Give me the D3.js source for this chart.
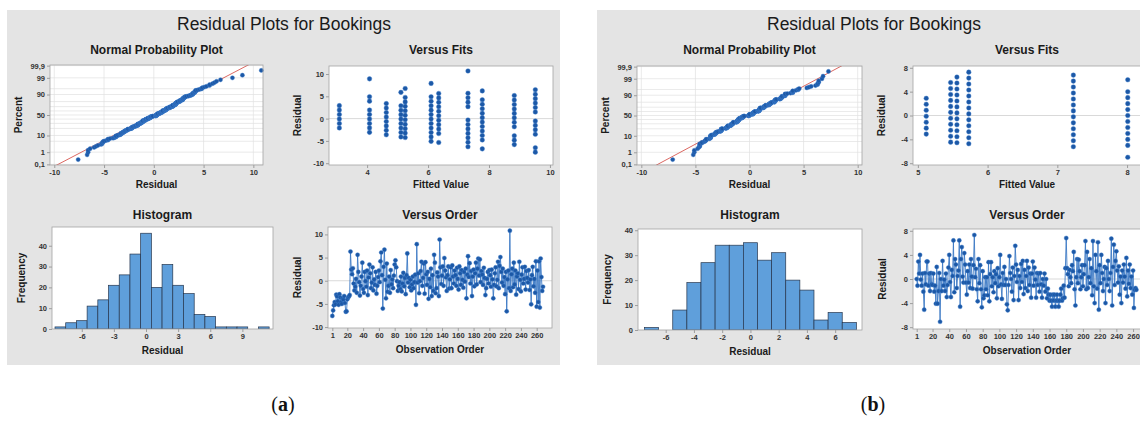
<!DOCTYPE html>
<html>
<head>
<meta charset="utf-8">
<script src="https://cdn.jsdelivr.net/npm/d3@7"></script>
<style>
  html, body { margin: 0; padding: 0; background: #ffffff; }
  svg { display: block; font-family: "Liberation Sans", Arial, Helvetica, sans-serif; }
</style>
</head>
<body>
<script>
// ---------------------------------------------------------------
// Residual plots for Bookings: two four-panel diagnostic figures
// ---------------------------------------------------------------

// ---- Figure (a) ----
// residuals in observation order
const residualsA = [
  -7.6, -6.4, -5.3, -4.6, -5.1, -3.0, -3.4, -4.4, -5.2, -2.9, -3.6, -4.6, -5.0, -3.8, -4.1, -3.3, -4.8, -6.7, -6.6, -4.0,
  -3.6, -3.4, -3.1, 6.3, 2.4, 1.4, 2.7, -0.6, -2.1, -1.3, 0.4, -2.6, 5.6, 1.9, -0.3, -3.2, -1.1, 0.9, 3.9, -1.8,
  -2.6, 1.9, -0.1, -1.3, 2.2, -3.1, 0.7, 3.5, 1.6, -1.6, -0.4, 2.9, -2.1, 0.3, -0.9, 1.9, -2.8, -1.1, 0.8, 2.2,
  -0.3, 4.2, 6.1, 1.2, -6.0, 3.0, 6.7, 0.2, -3.8, 3.7, -2.4, -1.1, 0.9, -2.6, 2.3, -0.8, 0.3, -1.6, 1.1, 3.5,
  4.4, 2.9, -0.1, -2.2, -1.1, -0.3, -1.8, 0.9, -2.3, -0.6, 1.7, -1.2, 0.6, -2.9, 1.2, 5.9, -0.4, 0.6, -1.4, 0.2,
  -2.1, -0.8, 0.9, -1.6, -0.3, 1.3, -5.2, 7.9, -0.4, 1.6, -2.7, -0.1, 2.1, 4.1, -1.1, 0.6, 3.7, -2.8, 4.0, 1.4,
  -0.9, 1.9, -3.9, 0.4, -1.4, 2.6, -3.3, 1.2, -2.2, 5.6, 3.9, -2.7, -1.6, 1.8, 0.9, -3.3, 8.9, 2.9, -0.7, 1.1,
  3.1, -1.1, 4.9, 2.2, 0.7, -2.2, 1.2, 3.1, -1.7, 0.3, 2.9, -1.6, 3.3, 0.9, -0.6, 2.2, 1.2, -1.1, 2.8, 0.4,
  -1.9, 3.1, 1.6, -0.9, 2.3, 0.2, -1.5, 1.9, -0.2, 2.6, -3.8, 1.3, 5.3, 0.8, 3.8, -0.6, 2.1, -3.3, 0.9, 2.4,
  -1.2, 1.6, 3.9, -0.8, 2.6, 4.8, 1.1, 4.6, -0.3, 2.1, 1.3, -0.9, 2.8, 0.6, -3.1, -1.6, 0.4, 1.9, -0.6, 2.3,
  1.2, -1.3, 2.4, 0.3, -3.8, -0.9, 1.6, 2.9, -1.2, 0.2, 4.1, -1.6, 3.2, 5.1, 1.9, -0.4, 2.6, -1.1, 0.8, -2.9,
  1.9, -6.6, 0.3, 2.2, -1.6, 10.8, -2.2, 1.4, 2.6, -1.4, 3.9, -0.8, 2.2, -3.0, 0.9, 1.6, -1.8, 4.1, 0.2, -2.3,
  1.3, 2.9, -0.6, 0.4, 3.0, -1.9, 2.1, 0.6, -0.4, 2.3, -2.0, 0.3, -5.1, 1.2, 3.0, -1.2, 0.4, -2.6, 4.2, -5.6,
  2.2, -4.6, 4.2, -5.8, 4.8, 0.8, -2.2, -1.3
];
// fitted-value levels and the residuals observed at each level
const fitLevelsA = [3.09, 4.08, 4.63, 5.11, 5.25, 6.10, 6.35, 7.31, 7.78, 8.83, 9.52];
const fitResidualsA = [
  [2.91, 1.91, 0.91, -0.09, -1.09, -2.09],
  [8.92, 4.92, 3.92, 1.92, 0.92, -0.08, -1.08, -2.08, -3.08],
  [3.37, 2.37, 1.37, 0.37, -0.63, -1.63, -2.63, -3.63],
  [5.89, 2.89, 1.89, 0.89, -0.11, -1.11, -2.11, -3.11, -4.11],
  [6.75, 4.75, 3.75, 2.75, 1.75, 0.75, -0.25, -1.25, -2.25, -3.25, -4.25],
  [7.90, 4.90, 3.90, 2.90, 1.90, 0.90, -0.10, -1.10, -2.10, -3.10, -4.10, -5.10],
  [5.65, 4.65, 3.65, 2.65, 1.65, 0.65, -0.35, -1.35, -2.35, -3.35, -5.35],
  [10.69, 5.69, 4.69, 3.69, 2.69, -0.31, -1.31, -2.31, -3.31, -4.31, -5.31, -6.31],
  [6.22, 4.22, 3.22, 2.22, 1.22, 0.22, -0.78, -1.78, -2.78, -3.78, -4.78, -6.78],
  [5.17, 4.17, 3.17, 2.17, 1.17, 0.17, -0.83, -1.83, -3.83, -4.83, -5.83],
  [6.48, 5.48, 4.48, 3.48, 2.48, 1.48, -0.52, -1.52, -2.52, -3.52, -6.52, -7.52]
];
// histogram: bin centres (width 1) and frequencies
const histBinsA   = [-8, -7, -6, -5, -4, -3, -2, -1, 0, 1, 2, 3, 4, 5, 6, 7, 8, 9, 10, 11];
const histCountsA = [ 1,  3,  4, 11, 14, 21, 26, 36, 46, 20, 31, 21, 17, 7, 6, 1, 1, 1, 0, 1];
// normal reference line (mean, standard deviation)
const refMeanA = -0.13;
const refSdA = 3.07;

// ---- Figure (b) ----
const residualsB = [
  0.0, -1.1, 2.9, 0.9, 4.0, -0.1, -1.1, 0.9, -2.1, -5.1, 1.0, -0.9, 2.9, 2.9, -1.1, 0.9, -2.0, 1.0, -0.9, -1.0,
  0.9, -2.1, -1.1, -4.1, 2.0, -4.1, -2.0, 1.0, -7.1, 0.0, -2.0, 3.0, -1.1, -0.1, -2.0, 0.9, -3.0, -1.0, 1.9, 4.0,
  -0.5, -3.0, 1.5, 0.5, 6.4, -2.2, 3.3, 2.4, -1.5, 0.5, 1.4, 6.4, -4.6, 3.3, 5.3, 0.4, -0.6, 4.3, 2.4, -0.6,
  -2.6, 1.3, -0.6, 2.4, -1.5, 3.3, 0.4, -1.6, 2.3, 7.3, 0.3, 1.7, -1.7, -3.7, 3.3, -0.7, 2.3, -1.7, -4.7, 1.3,
  -3.2, -2.7, 0.3, -1.7, 0.3, -2.7, 2.8, -3.7, 0.8, 2.8, -1.2, 0.3, -2.2, 1.3, -0.7, 0.8, -3.2, 1.8, -1.2, 0.3,
  4.0, -0.9, -3.3, 1.0, -1.0, 2.0, -1.0, 0.0, -4.2, -5.2, -1.0, 3.8, 1.0, 0.0, -2.1, 1.9, -3.5, 0.5, 5.5, 2.4,
  -0.5, 1.5, -3.5, 0.5, -1.5, 2.5, -0.5, 3.0, -2.5, 1.5, -1.5, 0.5, 3.0, -2.0, 1.9, -1.0, 0.9, -3.1, 0.9, 2.9,
  -1.1, 1.9, -0.1, -3.1, 1.0, -1.0, 0.9, -2.1, 1.0, -0.9, -3.1, 0.0, -1.1, 0.9, -2.1, 0.0, -3.2, -1.6, -2.6, -3.6,
  -2.6, -3.6, -4.6, -2.6, -3.6, -2.6, -4.6, -3.6, -2.6, -3.6, -4.6, -3.6, -2.6, -1.6, -3.6, -3.2, -1.1, -3.1, 1.8, 6.8,
  1.8, 0.8, -1.2, 1.5, 0.3, -0.7, 2.3, 1.3, 4.5, -1.7, -4.4, 0.3, 3.3, -0.7, 3.2, 1.3, -1.7, 0.3, 2.3, -1.2,
  0.8, 2.3, 6.3, -1.7, 4.5, -1.5, 0.3, 3.3, -0.7, 1.8, -2.7, 6.3, -1.2, -4.0, 4.0, 1.3, -1.6, 6.1, -5.1, 2.3,
  -0.7, 4.0, 1.0, -2.0, 0.0, 2.0, -4.0, 1.8, -1.0, 3.0, 0.0, -2.0, 1.0, 6.7, -4.4, 2.0, 5.7, -1.0, 3.0, 4.6,
  1.4, -0.6, 2.1, -2.6, 0.4, -4.0, 1.4, -0.6, 2.4, 0.4, -1.6, 3.5, -2.9, 1.4, -0.8, 2.4, -1.5, 0.4, -2.6, 1.4,
  -4.8, -1.8, -1.5, -1.8
];
const fitLevelsB = [5.12, 5.47, 5.56, 5.73, 7.23, 8.01];
const fitResidualsB = [
  [2.88, 1.88, 0.88, -0.12, -1.12, -2.12, -3.12],
  [5.53, 4.53, 3.53, 2.53, 1.53, 0.53, -0.47, -1.47, -2.47, -3.47, -4.47],
  [6.44, 5.44, 4.44, 3.44, 2.44, 1.44, 0.44, -0.56, -1.56, -2.56, -3.56, -4.56],
  [7.27, 6.27, 5.27, 4.27, 3.27, 2.27, 1.27, 0.27, -0.73, -1.73, -2.73, -3.73, -4.73],
  [6.77, 5.77, 4.77, 3.77, 2.77, 1.77, 0.77, -0.23, -1.23, -2.23, -3.23, -4.23, -5.23],
  [5.99, 3.99, 2.99, 1.99, 0.99, -0.01, -1.01, -2.01, -3.01, -4.01, -5.01, -7.01]
];
const histBinsB   = [-7, -6, -5, -4, -3, -2, -1, 0, 1, 2, 3, 4, 5, 6, 7];
const histCountsB = [ 1,  0,  8, 19, 27, 34, 34, 35, 28, 31, 20, 16, 4, 7, 3];
const refMeanB = -0.05;
const refSdB = 2.73;

// ---- shared text and tick labels ----
const mainTitle = "Residual Plots for Bookings";
const panelTitles = ["Normal Probability Plot", "Versus Fits", "Histogram", "Versus Order"];
const percentTicks = [0.1, 1, 10, 50, 90, 99, 99.9];
const percentTickLabels = ["0,1", "1", "10", "50", "90", "99", "99,9"];
const percentGrid = [0.1, 1, 5, 10, 20, 30, 40, 50, 60, 70, 80, 90, 95, 99, 99.9];
const orderTicks = [1, 20, 40, 60, 80, 100, 120, 140, 160, 180, 200, 220, 240, 260];
const figureLabels = ["a", "b"];

// ---- styling ----
const C = {
  panel: "#e4e4e4",
  plotBg: "#ffffff",
  frame: "#a3a3a3",
  grid: "#e1e1e1",
  zero: "#cfcfcf",
  dot: "#1c58a6",
  dotEdge: "#3f7fcc",
  line: "#3b78c4",
  bar: "#5f9fdb",
  barEdge: "#26364d",
  ref: "#d2413a",
  text: "#1a1a1a",
  tick: "#333333"
};

// inverse of the standard normal CDF (Acklam's rational approximation)
function qnorm(p) {
  const a = [-3.969683028665376e+01, 2.209460984245205e+02, -2.759285104469687e+02, 1.383577518672690e+02, -3.066479806614716e+01, 2.506628277459239e+00];
  const b = [-5.447609879822406e+01, 1.615858368580409e+02, -1.556989798598866e+02, 6.680131188771972e+01, -1.328068155288572e+01];
  const c = [-7.784894002430293e-03, -3.223964580411365e-01, -2.400758277161838e+00, -2.549732539343734e+00, 4.374664141464968e+00, 2.938163982698783e+00];
  const d = [7.784695709041462e-03, 3.224671290700398e-01, 2.445134137142996e+00, 3.754408661907416e+00];
  const pl = 0.02425, ph = 1 - pl;
  let q, r;
  if (p < pl) {
    q = Math.sqrt(-2 * Math.log(p));
    return (((((c[0]*q+c[1])*q+c[2])*q+c[3])*q+c[4])*q+c[5]) / ((((d[0]*q+d[1])*q+d[2])*q+d[3])*q+1);
  }
  if (p <= ph) {
    q = p - 0.5; r = q * q;
    return (((((a[0]*r+a[1])*r+a[2])*r+a[3])*r+a[4])*r+a[5])*q / (((((b[0]*r+b[1])*r+b[2])*r+b[3])*r+b[4])*r+1);
  }
  q = Math.sqrt(-2 * Math.log(1 - p));
  return -(((((c[0]*q+c[1])*q+c[2])*q+c[3])*q+c[4])*q+c[5]) / ((((d[0]*q+d[1])*q+d[2])*q+d[3])*q+1);
}

const W = 1140, H = 430;
const svg = d3.select("body").append("svg")
  .attr("width", W).attr("height", H)
  .attr("viewBox", `0 0 ${W} ${H}`);

const defs = svg.append("defs");
let clipCount = 0;

const fmt = v => String(v);

// frame + axes for one sub-plot; returns the inner group clipped to the plot box
function subplot(g, box, xScale, yScale, opts) {
  const id = "clip" + (clipCount++);
  defs.append("clipPath").attr("id", id)
    .append("rect").attr("x", box.x).attr("y", box.y).attr("width", box.w).attr("height", box.h);

  g.append("rect").attr("x", box.x).attr("y", box.y).attr("width", box.w).attr("height", box.h)
    .attr("fill", C.plotBg);

  // x axis
  const xAxis = d3.axisBottom(xScale).tickValues(opts.xTicks).tickSize(3).tickPadding(2)
    .tickFormat(opts.xFormat || fmt);
  const xa = g.append("g").attr("transform", `translate(0,${box.y + box.h})`).call(xAxis);
  // y axis
  const yAxis = d3.axisLeft(yScale).tickValues(opts.yTicks).tickSize(3).tickPadding(2)
    .tickFormat(opts.yFormat || fmt);
  const ya = g.append("g").attr("transform", `translate(${box.x},0)`).call(yAxis);
  [xa, ya].forEach(a => {
    a.select(".domain").remove();
    a.selectAll(".tick line").attr("stroke", "#8a8a8a").attr("stroke-width", 0.8);
    a.selectAll(".tick text").attr("fill", C.tick).style("font-size", "7.5px").style("font-weight", "bold")
      .style("font-family", '"Liberation Sans", Arial, sans-serif');
  });

  const inner = g.append("g").attr("clip-path", `url(#${id})`);

  // titles
  g.append("text").attr("x", box.x + box.w / 2).attr("y", opts.titleY)
    .attr("text-anchor", "middle").attr("fill", C.text)
    .style("font-size", "12px").style("font-weight", "bold").text(opts.title);
  g.append("text").attr("x", box.x + box.w / 2).attr("y", box.y + box.h + opts.xTitleGap)
    .attr("text-anchor", "middle").attr("fill", C.text)
    .style("font-size", "10px").style("font-weight", "bold").text(opts.xTitle);
  g.append("text")
    .attr("transform", `translate(${box.x - opts.yTitleGap},${box.y + box.h / 2}) rotate(-90)`)
    .attr("text-anchor", "middle").attr("fill", C.text)
    .style("font-size", "10px").style("font-weight", "bold").text(opts.yTitle);

  return {
    inner,
    finish() {
      g.append("rect").attr("x", box.x).attr("y", box.y).attr("width", box.w).attr("height", box.h)
        .attr("fill", "none").attr("stroke", C.frame).attr("stroke-width", 0.8);
    }
  };
}

function drawFigure(cfg) {
  const g = svg.append("g");
  g.append("rect").attr("x", cfg.bg.x).attr("y", cfg.bg.y).attr("width", cfg.bg.w).attr("height", cfg.bg.h)
    .attr("fill", C.panel);
  g.append("text").attr("x", cfg.titleX).attr("y", 30).attr("text-anchor", "middle")
    .attr("fill", C.text).style("font-size", "17.5px").text(mainTitle);

  // ---- Normal probability plot ----
  {
    const box = cfg.npp;
    const x = d3.scaleLinear().domain(cfg.nppX).range([box.x, box.x + box.w]);
    const y = d3.scaleLinear().domain([-3.13, 3.13]).range([box.y + box.h, box.y]);
    const sp = subplot(g, box, x, y, {
      xTicks: [-10, -5, 0, 5, 10], yTicks: percentTicks.map(p => qnorm(p / 100)),
      yFormat: (d, i) => percentTickLabels[i],
      title: panelTitles[0], titleY: cfg.titleY1, xTitle: "Residual", yTitle: "Percent",
      xTitleGap: 23, yTitleGap: 28
    });
    // grid
    sp.inner.selectAll(".hgrid").data(percentGrid).join("line")
      .attr("x1", box.x).attr("x2", box.x + box.w)
      .attr("y1", p => y(qnorm(p / 100))).attr("y2", p => y(qnorm(p / 100)))
      .attr("stroke", C.grid).attr("stroke-width", 0.7);
    sp.inner.selectAll(".vgrid").data([-10, -5, 0, 5, 10]).join("line")
      .attr("x1", d => x(d)).attr("x2", d => x(d))
      .attr("y1", box.y).attr("y2", box.y + box.h)
      .attr("stroke", C.grid).attr("stroke-width", 0.7);
    // fitted normal line
    const zs = [-3.3, 3.3];
    sp.inner.append("line")
      .attr("x1", x(cfg.refMean + cfg.refSd * zs[0])).attr("y1", y(zs[0]))
      .attr("x2", x(cfg.refMean + cfg.refSd * zs[1])).attr("y2", y(zs[1]))
      .attr("stroke", C.ref).attr("stroke-width", 0.8);
    // points: sorted residuals against median-rank percentiles
    const sorted = cfg.residuals.slice().sort(d3.ascending);
    const n = sorted.length;
    const pts = sorted.map((v, i) => ({ v, z: qnorm((i + 1 - 0.3) / (n + 0.4)) }));
    g.append("g").selectAll("circle").data(pts).join("circle")
      .attr("cx", d => x(d.v)).attr("cy", d => y(d.z)).attr("r", 2.1)
      .attr("fill", C.dot).attr("stroke", C.dotEdge).attr("stroke-width", 0.4);
    sp.finish();
  }

  // ---- Versus fits ----
  {
    const box = cfg.fits;
    const x = d3.scaleLinear().domain(cfg.fitsX).range([box.x, box.x + box.w]);
    const y = d3.scaleLinear().domain(cfg.fitsY).range([box.y + box.h, box.y]);
    const sp = subplot(g, box, x, y, {
      xTicks: cfg.fitsXTicks, yTicks: cfg.resTicks,
      title: panelTitles[1], titleY: cfg.titleY1, xTitle: "Fitted Value", yTitle: "Residual",
      xTitleGap: 23, yTitleGap: 28
    });
    sp.inner.append("line").attr("x1", box.x).attr("x2", box.x + box.w)
      .attr("y1", y(0)).attr("y2", y(0)).attr("stroke", C.zero).attr("stroke-width", 0.8);
    const pts = [];
    cfg.fitLevels.forEach((f, i) => cfg.fitResiduals[i].forEach(r => pts.push({ f, r })));
    sp.inner.append("g").selectAll("circle").data(pts).join("circle")
      .attr("cx", d => x(d.f)).attr("cy", d => y(d.r)).attr("r", 2.3)
      .attr("fill", C.dot).attr("stroke", C.dotEdge).attr("stroke-width", 0.4);
    sp.finish();
  }

  // ---- Histogram ----
  {
    const box = cfg.hist;
    const x = d3.scaleLinear().domain(cfg.histX).range([box.x, box.x + box.w]);
    const y = d3.scaleLinear().domain(cfg.histY).range([box.y + box.h, box.y]);
    const sp = subplot(g, box, x, y, {
      xTicks: cfg.histXTicks, yTicks: [0, 10, 20, 30, 40],
      title: panelTitles[2], titleY: cfg.titleY2, xTitle: "Residual", yTitle: "Frequency",
      xTitleGap: 25, yTitleGap: 27
    });
    const bins = cfg.histBins.map((c, i) => ({ c, n: cfg.histCounts[i] })).filter(d => d.n > 0);
    sp.inner.selectAll(".bar").data(bins).join("rect")
      .attr("x", d => x(d.c - 0.5)).attr("width", d => x(d.c + 0.5) - x(d.c - 0.5))
      .attr("y", d => y(d.n)).attr("height", d => y(0) - y(d.n))
      .attr("fill", C.bar).attr("stroke", C.barEdge).attr("stroke-width", 0.7);
    sp.finish();
  }

  // ---- Versus order ----
  {
    const box = cfg.order;
    const x = d3.scaleLinear().domain(cfg.orderX).range([box.x, box.x + box.w]);
    const y = d3.scaleLinear().domain(cfg.orderY).range([box.y + box.h, box.y]);
    const sp = subplot(g, box, x, y, {
      xTicks: orderTicks, yTicks: cfg.resTicksOrder,
      title: panelTitles[3], titleY: cfg.titleY2, xTitle: "Observation Order", yTitle: "Residual",
      xTitleGap: 25, yTitleGap: 27
    });
    sp.inner.append("line").attr("x1", box.x).attr("x2", box.x + box.w)
      .attr("y1", y(0)).attr("y2", y(0)).attr("stroke", C.zero).attr("stroke-width", 0.8);
    const pts = cfg.residuals.map((r, i) => ({ o: i + 1, r }));
    sp.inner.append("path").datum(pts)
      .attr("d", d3.line().x(d => x(d.o)).y(d => y(d.r)))
      .attr("fill", "none").attr("stroke", C.line).attr("stroke-width", 0.9);
    sp.inner.append("g").selectAll("circle").data(pts).join("circle")
      .attr("cx", d => x(d.o)).attr("cy", d => y(d.r)).attr("r", 2.1)
      .attr("fill", C.dot).attr("stroke", C.dotEdge).attr("stroke-width", 0.4);
    sp.finish();
  }

  // figure label
  svg.append("text").attr("x", cfg.titleX - 1).attr("y", 411).attr("text-anchor", "middle")
    .style("font-family", '"Liberation Serif", "DejaVu Serif", serif').style("font-size", "20px")
    .attr("fill", "#111")
    .call(t => {
      t.append("tspan").text("(");
      t.append("tspan").style("font-weight", "bold").text(cfg.label);
      t.append("tspan").text(")");
    });
}

drawFigure({
  label: figureLabels[0],
  bg: { x: 7, y: 10, w: 553, h: 355 }, titleX: 284, titleY1: 54, titleY2: 219,
  residuals: residualsA, refMean: refMeanA, refSd: refSdA,
  npp: { x: 50, y: 65, w: 213, h: 100 }, nppX: [-10.43, 10.97],
  fits: { x: 329, y: 66, w: 224, h: 99 }, fitsX: [2.75, 10.1], fitsY: [-10.4, 11.8],
  fitsXTicks: [4, 6, 8, 10], resTicks: [-10, -5, 0, 5, 10],
  fitLevels: fitLevelsA, fitResiduals: fitResidualsA,
  hist: { x: 52, y: 227, w: 221, h: 102 }, histX: [-8.78, 11.86], histY: [0, 49],
  histXTicks: [-6, -3, 0, 3, 6, 9], histBins: histBinsA, histCounts: histCountsA,
  order: { x: 328, y: 227, w: 224, h: 101 }, orderX: [-4.5, 279.4], orderY: [-10.2, 11.6],
  resTicksOrder: [-10, -5, 0, 5, 10]
});

drawFigure({
  label: figureLabels[1],
  bg: { x: 597, y: 10, w: 560, h: 355 }, titleX: 874, titleY1: 54, titleY2: 219,
  residuals: residualsB, refMean: refMeanB, refSd: refSdB,
  npp: { x: 637, y: 66, w: 225, h: 99 }, nppX: [-10.4, 10.4],
  fits: { x: 913, y: 66, w: 228, h: 99 }, fitsX: [4.93, 8.2], fitsY: [-8.3, 8.3],
  fitsXTicks: [5, 6, 7, 8], resTicks: [-8, -4, 0, 4, 8],
  fitLevels: fitLevelsB, fitResiduals: fitResidualsB,
  hist: { x: 638, y: 229, w: 224, h: 101 }, histX: [-7.96, 7.9], histY: [0, 40.5],
  histXTicks: [-6, -4, -2, 0, 2, 4, 6], histBins: histBinsB, histCounts: histCountsB,
  order: { x: 913, y: 229, w: 228, h: 100 }, orderX: [-3.4, 269.5], orderY: [-8.3, 8.3],
  resTicksOrder: [-8, -4, 0, 4, 8]
});
</script>
</body>
</html>
